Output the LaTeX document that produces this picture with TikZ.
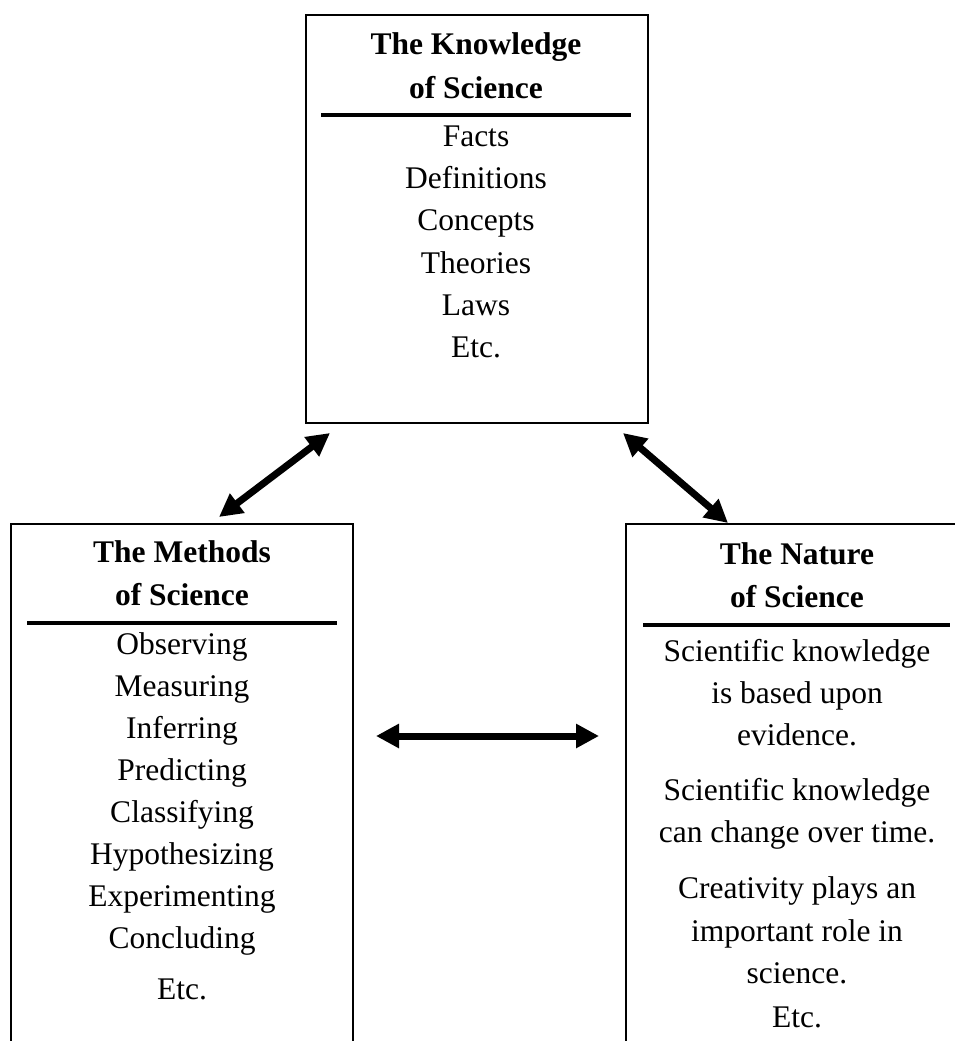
\documentclass[tikz,border=0pt]{standalone}
\usepackage{fontspec}
\setmainfont{Liberation Serif}
\usetikzlibrary{arrows.meta}
\begin{document}
\begin{tikzpicture}[x=1pt,y=-1pt,
  txt/.style={anchor=base, inner sep=0pt, font=\fontsize{31.5}{42.3}\selectfont},
  ttl/.style={anchor=base, inner sep=0pt, font=\fontsize{31.5}{42.3}\selectfont\bfseries},
  frame/.style={line width=2pt, black},
  rulebar/.style={line width=3.5pt, black},
  bigarrow/.style={line width=7pt, {Triangle[length=23pt,width=23pt]}-{Triangle[length=23pt,width=23pt]}}
]
\useasboundingbox (0,0) rectangle (954,1041);

% Top box: The Knowledge of Science
\node[frame, draw, anchor=north west, inner sep=0pt, minimum width=342pt, minimum height=408pt] (kbox) at (305,14) {};
\node[ttl] (kt1) at (476,55) {The Knowledge};
\node[ttl] (kt2) at (476,98) {of Science};
\coordinate (kr1) at (321,115);
\coordinate (kr2) at (631,115);
\draw[rulebar] (kr1) -- (kr2);
\foreach \y/\t [count=\i] in {146/Facts,188/Definitions,230/Concepts,273/Theories,315/Laws,357/Etc.}
  \node[txt] (k\i) at (476,\y) {\t};

% Left box: The Methods of Science
\coordinate (mbl) at (11,1045);
\coordinate (mtl) at (11,524);
\coordinate (mtr) at (353,524);
\coordinate (mbr) at (353,1045);
\draw[frame] (mbl) -- (mtl) -- (mtr) -- (mbr);
\node[ttl] (mt1) at (182,562) {The Methods};
\node[ttl] (mt2) at (182,605) {of Science};
\coordinate (mr1) at (27,623);
\coordinate (mr2) at (337,623);
\draw[rulebar] (mr1) -- (mr2);
\foreach \y/\t [count=\i] in {654/Observing,696/Measuring,738/Inferring,780/Predicting,822/Classifying,864/Hypothesizing,906/Experimenting,948/Concluding,999/Etc.}
  \node[txt] (m\i) at (182,\y) {\t};

% Right box: The Nature of Science
\coordinate (nbl) at (626,1045);
\coordinate (ntl) at (626,524);
\coordinate (ntr) at (958,524);
\draw[frame] (nbl) -- (ntl) -- (ntr);
\node[ttl] (nt1) at (797,564) {The Nature};
\node[ttl] (nt2) at (797,607) {of Science};
\coordinate (nr1) at (643,625);
\coordinate (nr2) at (950,625);
\draw[rulebar] (nr1) -- (nr2);
\foreach \y/\t [count=\i] in {661/Scientific knowledge,703/is based upon,745/evidence.,800/Scientific knowledge,842/can change over time.,898/Creativity plays an,941/important role in,983/science.,1027/Etc.}
  \node[txt] (n\i) at (797,\y) {\t};

% Arrows
\coordinate (a1s) at (330,433);
\coordinate (a1e) at (219,517);
\coordinate (a2s) at (623,433);
\coordinate (a2e) at (728,523);
\coordinate (a3s) at (376,736);
\coordinate (a3e) at (599,736);
\draw[bigarrow] (a1s) -- (a1e);
\draw[bigarrow] (a2s) -- (a2e);
\draw[bigarrow] (a3s) -- (a3e);
\end{tikzpicture}
\end{document}
